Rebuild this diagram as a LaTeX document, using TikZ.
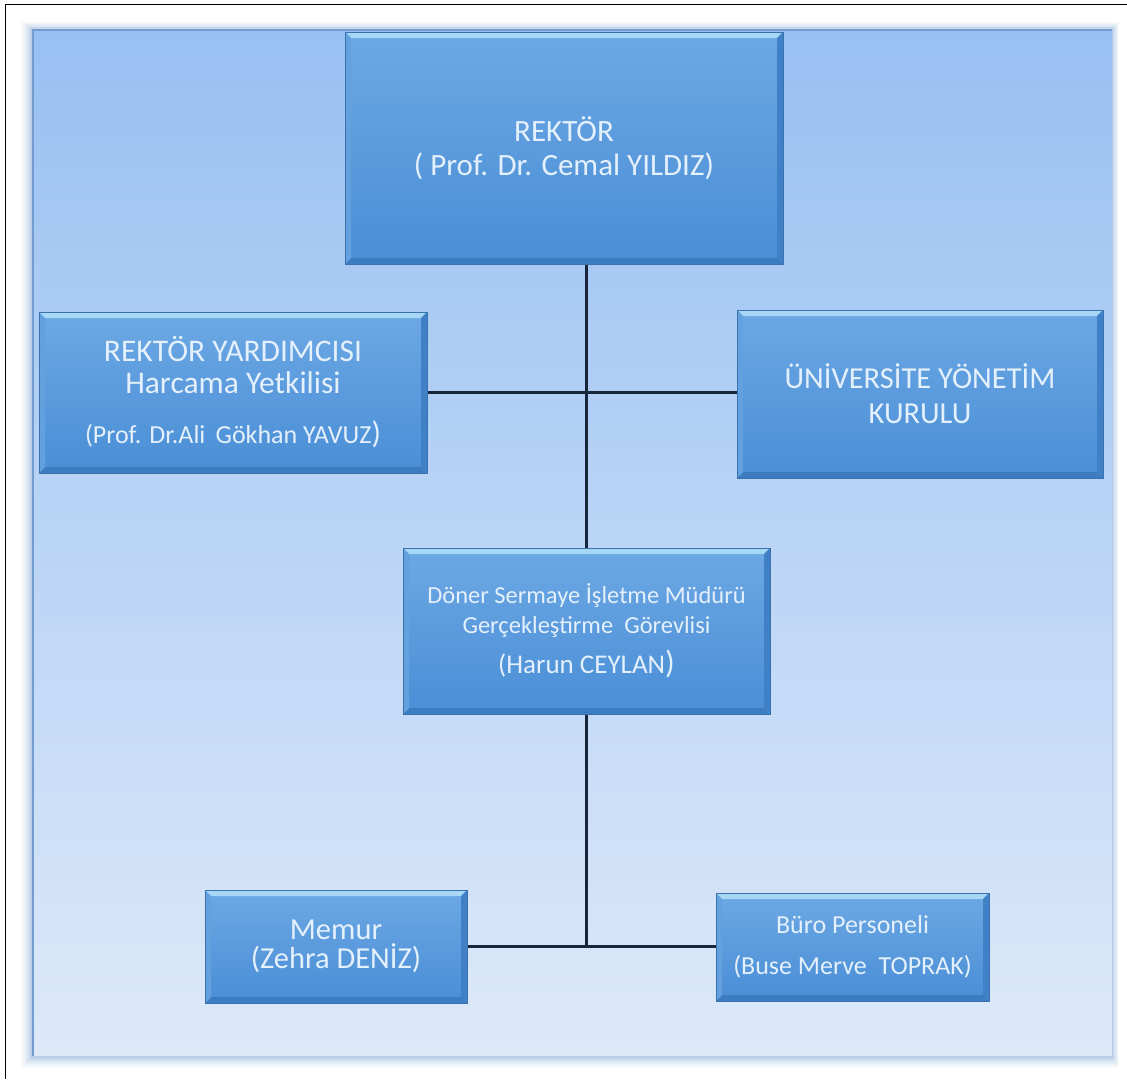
\documentclass[tikz,border=0pt]{standalone}
\usepackage{fontspec}
\setmainfont{Carlito}
\usetikzlibrary{calc}
\definecolor{panelTop}{HTML}{98C0F2}
\definecolor{panelBot}{HTML}{DDE9F9}
\definecolor{panelShadow}{HTML}{5A8CC8}
\definecolor{boxTop}{HTML}{6CA8E4}
\definecolor{boxBot}{HTML}{4A8ED6}
\definecolor{boxEdge}{HTML}{3B72AD}
\definecolor{bevHi}{HTML}{A6D8F6}
\definecolor{bevLo}{HTML}{3C7DC2}
\definecolor{bevLeft}{HTML}{62A0DE}
\definecolor{bevRight}{HTML}{3F80C6}
\definecolor{txt}{HTML}{E4F0FB}
\definecolor{linkC}{HTML}{17263A}
\newcommand{\bigparen}[1]{{\fontsize{#1}{#1}\selectfont)}}
\tikzset{
  orgbox/.style={rectangle, draw=boxEdge, line width=1pt, top color=boxTop, bottom color=boxBot,
    text=txt, align=center, inner sep=0pt,
    path picture={
      \coordinate (pnw) at (path picture bounding box.north west);
      \coordinate (pne) at (path picture bounding box.north east);
      \coordinate (psw) at (path picture bounding box.south west);
      \coordinate (pse) at (path picture bounding box.south east);
      \fill[bevHi] (pnw) -- (pne) -- ($(pne)+(-6,6)$) -- ($(pnw)+(6,6)$) -- cycle;
      \fill[bevLo] (psw) -- (pse) -- ($(pse)+(-6,-6)$) -- ($(psw)+(6,-6)$) -- cycle;
      \fill[bevLeft] (pnw) -- (psw) -- ($(psw)+(6,-6)$) -- ($(pnw)+(6,6)$) -- cycle;
      \fill[bevRight] (pne) -- (pse) -- ($(pse)+(-6,-6)$) -- ($(pne)+(-6,6)$) -- cycle;
    }},
  link/.style={draw=linkC, line width=2.2pt}
}
\begin{document}
\begin{tikzpicture}[x=1pt, y=-1pt]
\useasboundingbox (0,0) rectangle (1127,1079);
\fill[white] (0,0) rectangle (1127,1079);
% outer frame
\draw[black, line width=1.5pt] (5.5,1079) -- (5.5,4.5) -- (1127,4.5);
% panel shadow
\foreach \d/\o in {12/0.04,10/0.05,8/0.07,6/0.09,4/0.12,2/0.16} {
  \fill[panelShadow, opacity=\o] (33-\d,30-\d*0.7) rectangle (1112+\d*0.6,1056+\d);
}
% panel
\shade[top color=panelTop, bottom color=panelBot] (33,30) rectangle (1112,1056);
\draw[panelShadow!85, line width=2pt] (33,1056) -- (33,30) -- (1112,30);
\draw[panelShadow!45, line width=1pt] (33,1056) -- (1112,1056) -- (1112,30);

% boxes
\node[orgbox, minimum width=438pt, minimum height=232pt, font=\fontsize{31}{34}\selectfont]
  (rektor) at (564,148) {REKTÖR\\( Prof. Dr. Cemal YILDIZ)};
\node[orgbox, minimum width=388pt, minimum height=161pt, font=\fontsize{31.5}{32}\selectfont]
  (yard) at (233,392.5) {REKTÖR YARDIMCISI\\
   Harcama Yetkilisi\\[18pt]
   {\fontsize{26}{30}\selectfont (Prof. Dr.Ali\, Gökhan YAVUZ\bigparen{31}}};
\node[orgbox, minimum width=366pt, minimum height=168pt, font=\fontsize{30.5}{35}\selectfont]
  (kurul) at (920,394) {\raisebox{-10pt}{\parbox{340pt}{\centering ÜNİVERSİTE YÖNETİM\\KURULU}}};
\node[orgbox, minimum width=367pt, minimum height=166pt, font=\fontsize{24.5}{30}\selectfont]
  (mudur) at (586.5,631) {Döner Sermaye İşletme Müdürü\\
   Gerçekleştirme\ \ Görevlisi\\[10pt]
   {\fontsize{27}{30}\selectfont (Harun CEYLAN\bigparen{32}}};
\node[orgbox, minimum width=262pt, minimum height=113pt, font=\fontsize{30.5}{29}\selectfont]
  (memur) at (336,946.5) {\raisebox{-3pt}{\parbox{250pt}{\centering Memur\\(Zehra DENİZ)}}};
\node[orgbox, minimum width=273pt, minimum height=108pt, font=\fontsize{26}{30}\selectfont]
  (buro) at (852.5,947) {Büro Personeli\\[11pt](Buse Merve\ \ TOPRAK)};

% connectors
\draw[link] (rektor.south -| mudur.north) -- (mudur.north);
\draw[link] (yard.east) -- (yard.east -| kurul.west);
\draw[link] (mudur.south) -- (mudur.south |- memur.east);
\draw[link] (memur.east) -- (memur.east -| buro.west);
\end{tikzpicture}
\end{document}
